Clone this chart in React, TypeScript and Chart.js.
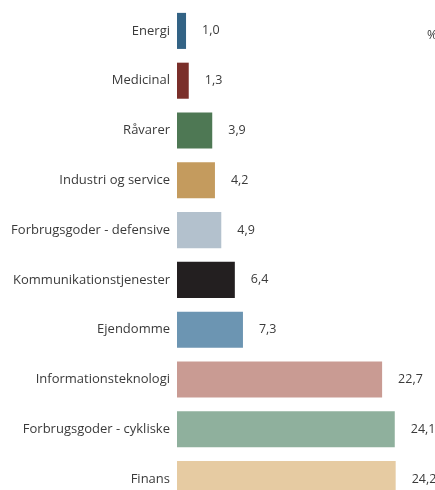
import React, { useEffect, useRef } from "react";
import { Chart, registerables } from "chart.js";

Chart.register(...registerables);

const categories = [
  "Energi",
  "Medicinal",
  "Råvarer",
  "Industri og service",
  "Forbrugsgoder - defensive",
  "Kommunikationstjenester",
  "Ejendomme",
  "Informationsteknologi",
  "Forbrugsgoder - cykliske",
  "Finans",
];
const values = [1.0, 1.3, 3.9, 4.2, 4.9, 6.4, 7.3, 22.7, 24.1, 24.2];
const colors = [
  "#336385",
  "#7a2f2a",
  "#4e7854",
  "#c49b5e",
  "#b3c1cd",
  "#231f20",
  "#6c95b2",
  "#c99b93",
  "#8fb09d",
  "#e6cba2",
];
const unitLabel = "%";

const FONT = "'Open Sans', sans-serif";
const TEXT = "#3a3a3a";

const valueLabels = {
  id: "valueLabels",
  afterDatasetsDraw(chart: any) {
    const ctx = chart.ctx;
    const meta = chart.getDatasetMeta(0);
    ctx.save();
    ctx.font = `12.5px ${FONT}`;
    ctx.fillStyle = TEXT;
    ctx.textAlign = "left";
    ctx.textBaseline = "middle";
    meta.data.forEach((bar: any, i: number) => {
      const txt = values[i].toFixed(1).replace(".", ",");
      ctx.fillText(txt, bar.x + 16, bar.y);
    });
    ctx.fillText(unitLabel, chart.chartArea.right - 3, meta.data[0].y + 5);
    ctx.restore();
  },
};

export default function App() {
  const ref = useRef<HTMLCanvasElement>(null);
  useEffect(() => {
    if (!ref.current) return;
    const chart = new Chart(ref.current, {
      type: "bar",
      data: {
        labels: categories,
        datasets: [
          {
            data: values,
            backgroundColor: colors,
            borderWidth: 0,
            categoryPercentage: 1,
            barPercentage: 0.724,
          },
        ],
      },
      options: {
        indexAxis: "y",
        animation: false,
        responsive: false,
        maintainAspectRatio: false,
        layout: { padding: { top: 6, right: 5, bottom: 0, left: 0 } },
        plugins: {
          legend: { display: false },
          tooltip: { enabled: false },
        },
        scales: {
          x: {
            min: 0,
            max: 28,
            display: false,
            grid: { display: false },
          },
          y: {
            grid: { display: false, drawTicks: false, tickLength: 0 },
            border: { display: false },
            ticks: {
              padding: 7,
              color: TEXT,
              font: { family: FONT, size: 13 },
            },
            afterFit(scale: any) {
              scale.width = 177;
              scale.paddingTop = 0;
              scale.paddingBottom = 0;
            },
          },
        },
      },
      plugins: [valueLabels],
    });
    return () => chart.destroy();
  }, []);
  return (
    <div
      style={{
        position: "absolute",
        left: 0,
        top: 0,
        width: 435,
        height: 490,
        overflow: "hidden",
        background: "#fff",
      }}
    >
      <canvas ref={ref} width={435} height={504} style={{ display: "block" }} />
    </div>
  );
}
